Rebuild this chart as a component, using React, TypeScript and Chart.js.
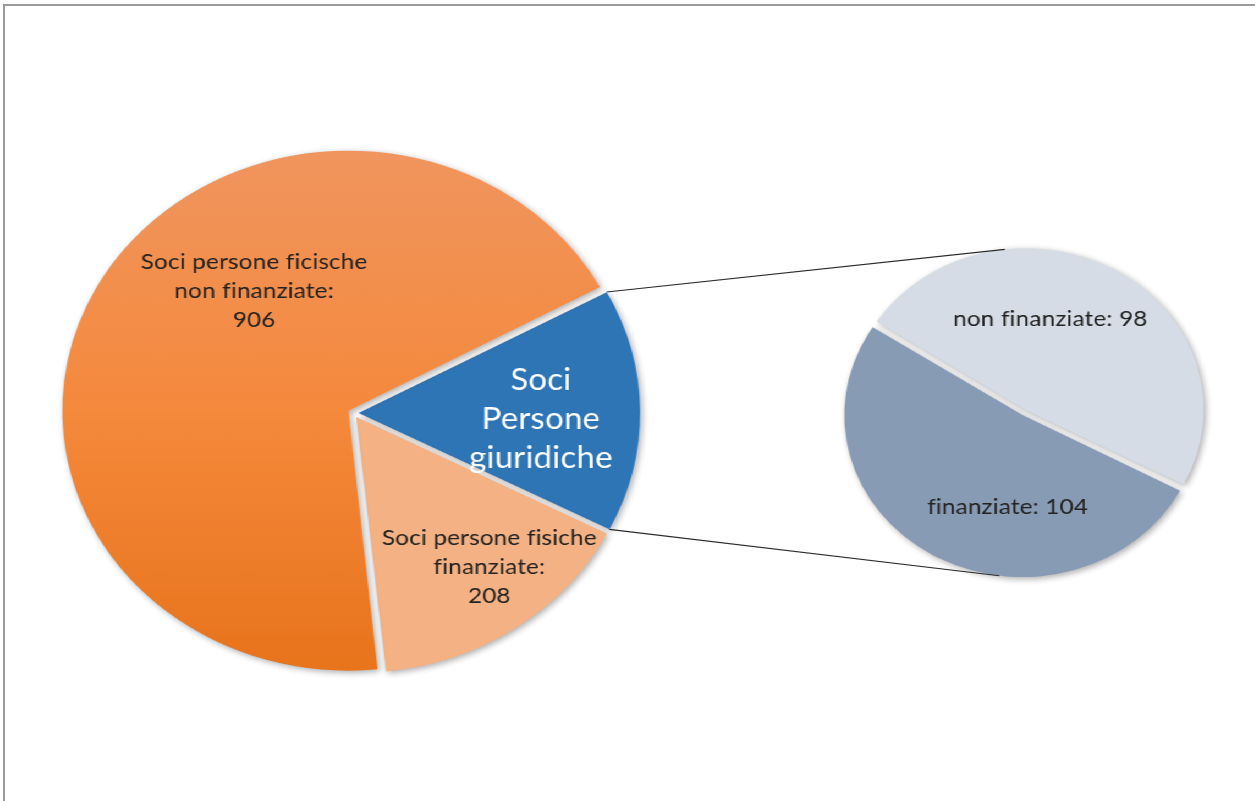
import React, { useEffect, useRef } from "react";
import { Chart, registerables } from "chart.js";

Chart.register(...registerables);

// ---- data ----
const mainCategories = [
  "Soci Persone giuridiche",
  "Soci persone fisiche finanziate",
  "Soci persone ficische non finanziate",
];
const secondaryCategories = ["non finanziate", "finanziate"];
const secondaryValues = [98, 104];
const fisicheFinanziate = 208;
const fisicheNonFinanziate = 906;
// the "Persone giuridiche" slice is the total of the secondary pie
const mainValues = [
  secondaryValues[0] + secondaryValues[1],
  fisicheFinanziate,
  fisicheNonFinanziate,
];
const mainLabelLines = [
  ["Soci", "Persone", "giuridiche"],
  ["Soci persone fisiche", "finanziate:", "{v}"],
  ["Soci persone ficische", "non finanziate:", "{v}"],
];
const secondaryLabelLines = [["non finanziate: {v}"], ["finanziate: {v}"]];

// ---- layout / styles ----
const SX = 1.1; // the reference is horizontally stretched
const W = 1141;
const H = 801;
const MAIN_CX = 321;
const MAIN_CY = 413;
const MAIN_R = 255;
const SEC_CX = 931;
const SEC_CY = 412.5;
const SEC_R = 159;
const FONT = "Lato, 'Open Sans', sans-serif";

const mainColors = ["#2E75B6", "#F4B183", "#F4873A"];
const secColors = ["#D6DCE5", "#889BB4"];
const mainLabelPos = [
  { a: 0.55, r: 0.67 },
  { a: 0.424, r: 0.775 },
  { a: 0.604, r: 0.595 },
];
const secLabelPos = [
  { a: 0.408, r: 0.61 },
  { a: 0.385, r: 0.6 },
];
const mainLabelStyle = [
  { size: 30, lh: 39, color: "#ffffff" },
  { size: 22, lh: 29, color: "#222222" },
  { size: 22, lh: 29, color: "#222222" },
];
const secLabelStyle = [
  { size: 22, lh: 29, color: "#222222" },
  { size: 22, lh: 29, color: "#222222" },
];

const shadowPlugin = {
  id: "softShadow",
  beforeDatasetsDraw(chart: any) {
    const c = chart.ctx;
    c.save();
    c.shadowColor = "rgba(0,0,0,0.33)";
    c.shadowBlur = 6;
    c.shadowOffsetX = 2;
    c.shadowOffsetY = 2;
  },
  afterDatasetsDraw(chart: any) {
    chart.ctx.restore();
  },
};

function makeLabelPlugin(id: string, lines: string[][], pos: any[], styles: any[]) {
  return {
    id,
    afterDraw(chart: any) {
      const meta = chart.getDatasetMeta(0);
      const data = chart.data.datasets[0].data;
      const ctx = chart.ctx;
      meta.data.forEach((el: any, i: number) => {
        const p = el.getProps(["x", "y", "startAngle", "endAngle", "outerRadius"], true);
        const ang = p.startAngle + (p.endAngle - p.startAngle) * pos[i].a;
        const rr = p.outerRadius * pos[i].r;
        const lx = p.x + Math.cos(ang) * rr;
        const ly = p.y + Math.sin(ang) * rr;
        const st = styles[i];
        ctx.save();
        ctx.font = `${st.size}px ${FONT}`;
        try {
          (ctx as any).letterSpacing = "0.2px";
        } catch (e) {}
        ctx.fillStyle = st.color;
        ctx.textAlign = "center";
        ctx.textBaseline = "middle";
        const ls = lines[i].map((t) => t.replace("{v}", String(data[i])));
        const n = ls.length;
        ls.forEach((t, k) => ctx.fillText(t, lx, ly + (k - (n - 1) / 2) * st.lh));
        ctx.restore();
      });
    },
  };
}

// geometry of an arc as actually drawn (offset translation + radius growth)
function drawnArc(el: any) {
  const p = el.getProps(["x", "y", "startAngle", "endAngle", "outerRadius"], true);
  const off = (el.options.offset || 0) / 4;
  const half = (p.startAngle + p.endAngle) / 2;
  const cx = p.x + Math.cos(half) * off;
  const cy = p.y + Math.sin(half) * off;
  const circ = p.endAngle - p.startAngle;
  const fix = 1 - Math.sin(Math.min(Math.PI, circ));
  const R = p.outerRadius + off * fix;
  return {
    cx,
    cy,
    R,
    top: { x: cx + Math.cos(p.startAngle) * R, y: cy + Math.sin(p.startAngle) * R },
    bottom: { x: cx + Math.cos(p.endAngle) * R, y: cy + Math.sin(p.endAngle) * R },
  };
}

export default function App() {
  const mainRef = useRef<HTMLCanvasElement | null>(null);
  const secRef = useRef<HTMLCanvasElement | null>(null);

  useEffect(() => {
    if (!mainRef.current || !secRef.current) return;

    const mainChart = new Chart(mainRef.current, {
      type: "pie",
      data: {
        labels: mainCategories,
        datasets: [
          {
            data: mainValues,
            backgroundColor: (c: any) => {
              const i = c.dataIndex;
              if (i === 2) {
                const area = c.chart.chartArea;
                if (!area) return mainColors[2];
                const cy = (area.top + area.bottom) / 2;
                const g = c.chart.ctx.createLinearGradient(0, cy - MAIN_R, 0, cy + MAIN_R);
                g.addColorStop(0, "#F0955E");
                g.addColorStop(0.5, "#F5893C");
                g.addColorStop(1, "#E8741C");
                return g;
              }
              return mainColors[i];
            },
            borderWidth: 0,
            borderColor: "rgba(0,0,0,0)",
            offset: 20,
            hoverOffset: 0,
            rotation: 61.8,
            radius: MAIN_R,
          } as any,
        ],
      },
      options: {
        responsive: false,
        animation: false,
        events: [],
        rotation: 61.8,
        radius: MAIN_R,
        layout: { padding: { left: 0, right: W - 2 * MAIN_CX, top: 2 * MAIN_CY - H, bottom: 0 } },
        plugins: { legend: { display: false }, tooltip: { enabled: false } },
      } as any,
      plugins: [shadowPlugin, makeLabelPlugin("mainLabels", mainLabelLines, mainLabelPos, mainLabelStyle)],
    });

    const connectorPlugin = {
      id: "connectors",
      afterDraw(chart: any) {
        const blue = mainChart.getDatasetMeta(0).data[0];
        if (!blue) return;
        const corners = drawnArc(blue);
        const secArcs = chart.getDatasetMeta(0).data;
        const upper = drawnArc(secArcs[0]);
        const lower = drawnArc(secArcs[1]);
        const tangent = (P: any, circle: any, sign: number) => {
          const dx = P.x - circle.cx;
          const dy = P.y - circle.cy;
          const d = Math.sqrt(dx * dx + dy * dy);
          const a = Math.atan2(dy, dx) + sign * Math.acos(Math.min(1, circle.R / d));
          return { x: circle.cx + Math.cos(a) * circle.R, y: circle.cy + Math.sin(a) * circle.R };
        };
        const t1 = tangent(corners.top, upper, 1);
        const t2 = tangent(corners.bottom, lower, -1);
        const ctx = chart.ctx;
        ctx.save();
        ctx.strokeStyle = "#2b2b2b";
        ctx.lineWidth = 1.2;
        ctx.beginPath();
        ctx.moveTo(corners.top.x, corners.top.y);
        ctx.lineTo(t1.x, t1.y);
        ctx.moveTo(corners.bottom.x, corners.bottom.y);
        ctx.lineTo(t2.x, t2.y);
        ctx.stroke();
        ctx.restore();
      },
    };

    const secChart = new Chart(secRef.current, {
      type: "pie",
      data: {
        labels: secondaryCategories,
        datasets: [
          {
            data: secondaryValues,
            backgroundColor: secColors,
            borderWidth: 0,
            borderColor: "rgba(0,0,0,0)",
            offset: 12,
            hoverOffset: 0,
            rotation: 303,
            radius: SEC_R,
          } as any,
        ],
      },
      options: {
        responsive: false,
        animation: false,
        events: [],
        rotation: 303,
        radius: SEC_R,
        layout: { padding: { left: 2 * SEC_CX - W, right: 0, top: 2 * SEC_CY - H, bottom: 0 } },
        plugins: { legend: { display: false }, tooltip: { enabled: false } },
      } as any,
      plugins: [
        shadowPlugin,
        connectorPlugin,
        makeLabelPlugin("secLabels", secondaryLabelLines, secLabelPos, secLabelStyle),
      ],
    });

    return () => {
      secChart.destroy();
      mainChart.destroy();
    };
  }, []);

  return (
    <div
      style={{
        position: "fixed",
        left: 0,
        top: 0,
        width: 1255,
        height: 801,
        background: "#ffffff",
        overflow: "hidden",
      }}
    >
      <div
        style={{
          position: "absolute",
          left: 3,
          top: 4,
          width: 1400,
          height: 1000,
          borderTop: "2px solid #9a9a9a",
          borderLeft: "2px solid #9a9a9a",
        }}
      />
      <div
        style={{
          position: "absolute",
          left: 0,
          top: 0,
          width: W,
          height: H,
          transform: `scaleX(${SX})`,
          transformOrigin: "0 0",
        }}
      >
        <canvas
          ref={mainRef}
          width={W}
          height={H}
          style={{ position: "absolute", left: 0, top: 0, width: W, height: H }}
        />
        <canvas
          ref={secRef}
          width={W}
          height={H}
          style={{ position: "absolute", left: 0, top: 0, width: W, height: H }}
        />
      </div>
    </div>
  );
}
